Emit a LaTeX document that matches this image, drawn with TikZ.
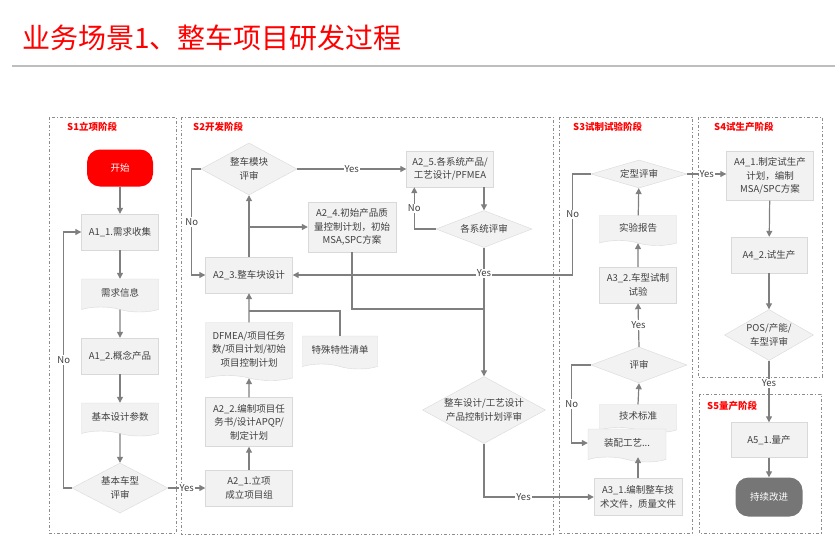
\documentclass[tikz,border=0pt]{standalone}
\usepackage{fontspec}
\setmainfont{Noto Sans CJK SC}
\usepackage{tikz}
\usetikzlibrary{arrows.meta, shapes.geometric, shapes.symbols, calc}
\definecolor{TitleRed}{RGB}{255,0,0}
\definecolor{BoxFill}{RGB}{242,242,242}
\definecolor{BoxLine}{RGB}{217,217,217}
\definecolor{FlowGray}{RGB}{127,127,127}
\definecolor{TextGray}{RGB}{64,64,64}
\definecolor{LaneGray}{RGB}{140,140,140}
\definecolor{RuleGray}{RGB}{190,190,190}
\definecolor{EndGray}{RGB}{118,118,118}

\begin{document}
\begin{tikzpicture}[x=1pt,y=-1pt,
    every node/.style={font=\fontsize{9.5}{13.5}\selectfont,text=TextGray},
    box/.style={draw=BoxLine,fill=BoxFill,align=center,inner sep=1pt,
                minimum width=87pt,minimum height=36pt},
    doc/.style={tape,tape bend top=none,tape bend bottom=out and in,tape bend height=5pt,
                draw=BoxLine,fill=BoxFill,align=center,inner sep=1pt,
                minimum width=77pt,minimum height=33pt},
    dec/.style={diamond,aspect=1.8,draw=BoxLine,fill=BoxFill,align=center,inner sep=0pt,
                minimum width=96pt,minimum height=50pt},
    term/.style={rounded corners=13pt,minimum width=66pt,minimum height=37pt,text=white},
    lane/.style={draw=LaneGray,line width=0.6pt,dash pattern=on 3pt off 2pt on 1pt off 2pt},
    stage/.style={anchor=west,inner sep=1pt,text=TitleRed,font=\fontsize{9.5}{11}\selectfont\bfseries},
    arr/.style={-{Triangle[length=6pt,width=6pt]},FlowGray,line width=1.2pt},
    link/.style={FlowGray,line width=1.2pt},
    lbl/.style={fill=white,inner sep=1pt}
  ]
    \useasboundingbox (0,0) rectangle (835,547);

    % title
    \node[anchor=west,inner sep=0pt,text=TitleRed,font=\fontsize{28}{32}\selectfont] (title) at (22,38) {业务场景1、整车项目研发过程};
    \draw[RuleGray,line width=1.5pt] (12,66) -- (835,66);

    % lanes
    \draw[lane] (49,117) rectangle (176,533);
    \draw[lane] (181,117) rectangle (553,534);
    \draw[lane] (559,117) rectangle (692,533);
    \draw[lane] (698,117) rectangle (822,377);
    \draw[lane] (699,394) rectangle (821,533);
    \node[stage] (s1) at (66,127) {S1立项阶段};
    \node[stage] (s2) at (192,127) {S2开发阶段};
    \node[stage] (s3) at (572,127) {S3试制试验阶段};
    \node[stage] (s4) at (713,127) {S4试生产阶段};
    \node[stage] (s5) at (706,406) {S5量产阶段};

    % S1
    \node[term,fill=TitleRed] (start) at (120,168) {开始};
    \node[box,minimum width=77pt] (a11) at (120,232) {A1\_1.需求收集};
    \node[doc] (info) at (120,293) {需求信息};
    \node[box,minimum width=77pt] (a12) at (120,356) {A1\_2.概念产品};
    \node[doc] (param) at (120,417) {基本设计参数};
    \node[dec] (rev1) at (120,488) {基本车型\\评审};

    % S2
    \node[box] (a21) at (249,488) {A2\_1.立项\\成立项目组};
    \node[box,minimum height=49pt] (a22) at (249,422) {A2\_2.编制项目任\\务书/设计APQP/\\制定计划};
    \node[doc,minimum width=87pt,minimum height=58pt] (dfmea) at (249,349) {DFMEA/项目任务\\数/项目计划/初始\\项目控制计划};
    \node[doc,minimum width=75pt] (spec) at (340,350) {特殊特性清单};
    \node[box] (a23) at (249,275) {A2\_3.整车块设计};
    \node[dec,minimum height=52pt] (rev2) at (249,169) {整车模块\\评审};
    \node[box,minimum width=88pt,minimum height=50pt] (a24) at (352,227) {A2\_4.初始产品质\\量控制计划，初始\\MSA,SPC方案};
    \node[box] (a25) at (450,169) {A2\_5.各系统产品/\\工艺设计/PFMEA};
    \node[dec,aspect=2.6,minimum height=37pt] (rev3) at (484,229) {各系统评审};
    \node[dec,minimum width=123pt,minimum height=67pt] (rev4) at (484,410) {整车设计/工艺设计\\产品控制计划评审};

    % S3
    \node[box,minimum width=88pt,minimum height=37pt] (a31) at (638,497) {A3\_1.编制整车技\\术文件，质量文件};
    \node[doc,minimum height=28pt] (std) at (638,416) {技术标准};
    \node[doc,minimum width=78pt] (asm) at (627,443) {装配工艺...};
    \node[dec,aspect=2.6,minimum height=36pt] (rev5) at (639,365) {评审};
    \node[box,minimum width=77pt] (a32) at (638,285) {A3\_2.车型试制\\试验};
    \node[doc,minimum height=30pt] (report) at (638,228) {实验报告};
    \node[dec,aspect=3.4,minimum height=28pt] (rev6) at (639,174) {定型评审};

    % S4, S5
    \node[box,minimum height=49pt] (a41) at (770,176) {A4\_1.制定试生产\\计划，编制\\MSA/SPC方案};
    \node[box,minimum width=76pt] (a42) at (769,255) {A4\_2.试生产};
    \node[dec,minimum width=89pt,minimum height=51pt] (rev7) at (769,335) {POS/产能/\\车型评审};
    \node[box,minimum width=76pt,minimum height=35pt] (a51) at (769,440) {A5\_1.量产};
    \node[term,fill=EndGray,minimum width=67pt,minimum height=39pt] (stop) at (769,497) {持续改进};

    % S1 flow
    \draw[arr] (start) -- (a11);
    \draw[arr] (a11) -- (info);
    \draw[arr] (info) -- (a12);
    \draw[arr] (a12) -- (param);
    \draw[arr] (param) -- (rev1);
    \draw[arr] (rev1.west) -- ++(-8,0) |- node[lbl,pos=0.25]{No} (a11.west);
    \draw[arr] (rev1.east) -- node[lbl]{Yes} (a21.west);

    % S2 flow
    \coordinate (j1) at (249,311);
    \coordinate (j3) at (484,309);
    \draw[arr] (a21) -- (a22);
    \draw[arr] (a22) -- (dfmea);
    \draw[arr] (dfmea) -- (a23);
    \draw[link] (spec.north) |- (j1);
    \draw[arr] (a23) -- (rev2);
    \draw[arr] (a24.west -| a23.north) -- (a24.west);
    \draw[arr] (rev2.east) -- node[lbl]{Yes} (a25.west);
    \draw[arr] (rev2.west) -- ++(-9,0) |- node[lbl,pos=0.25]{No} (a23.west);
    \draw[arr] (a25.south -| rev3.north) -- (rev3.north);
    \draw[arr] (rev3.west) -| node[lbl,pos=0.75]{No} ([xshift=8pt]a25.south west);
    \draw[link] (a24.south) |- (j3);
    \draw[arr] (rev6.west) -- ++(-18,0) |- node[lbl,pos=0.2]{No} (a23.east);
    \draw[arr] (rev3.south) -- node[lbl,pos=0.2]{Yes} (rev4.north);
    \draw[arr] (rev4.south) |- node[lbl,pos=0.68]{Yes} (a31.west);

    % S3 flow
    \draw[arr] (a31.north) -- (a31.north |- asm.south);
    \draw[arr] (std.north) -- (rev5.south);
    \draw[arr] (rev5.west) -- ++(-19,0) |- node[lbl,pos=0.25]{No} (asm.west);
    \draw[arr] (rev5.north) -- node[lbl]{Yes} (a32.south);
    \draw[arr] (a32) -- (report);
    \draw[arr] (report) -- (rev6);
    \draw[arr] (rev6.east) -- node[lbl]{Yes} (a41.west |- rev6.east);

    % S4, S5 flow
    \draw[arr] (a41) -- (a42);
    \draw[arr] (a42) -- (rev7);
    \draw[arr] (rev7) -- node[lbl,pos=0.37]{Yes} (a51);
    \draw[arr] (a51) -- (stop);
\end{tikzpicture}
\end{document}
